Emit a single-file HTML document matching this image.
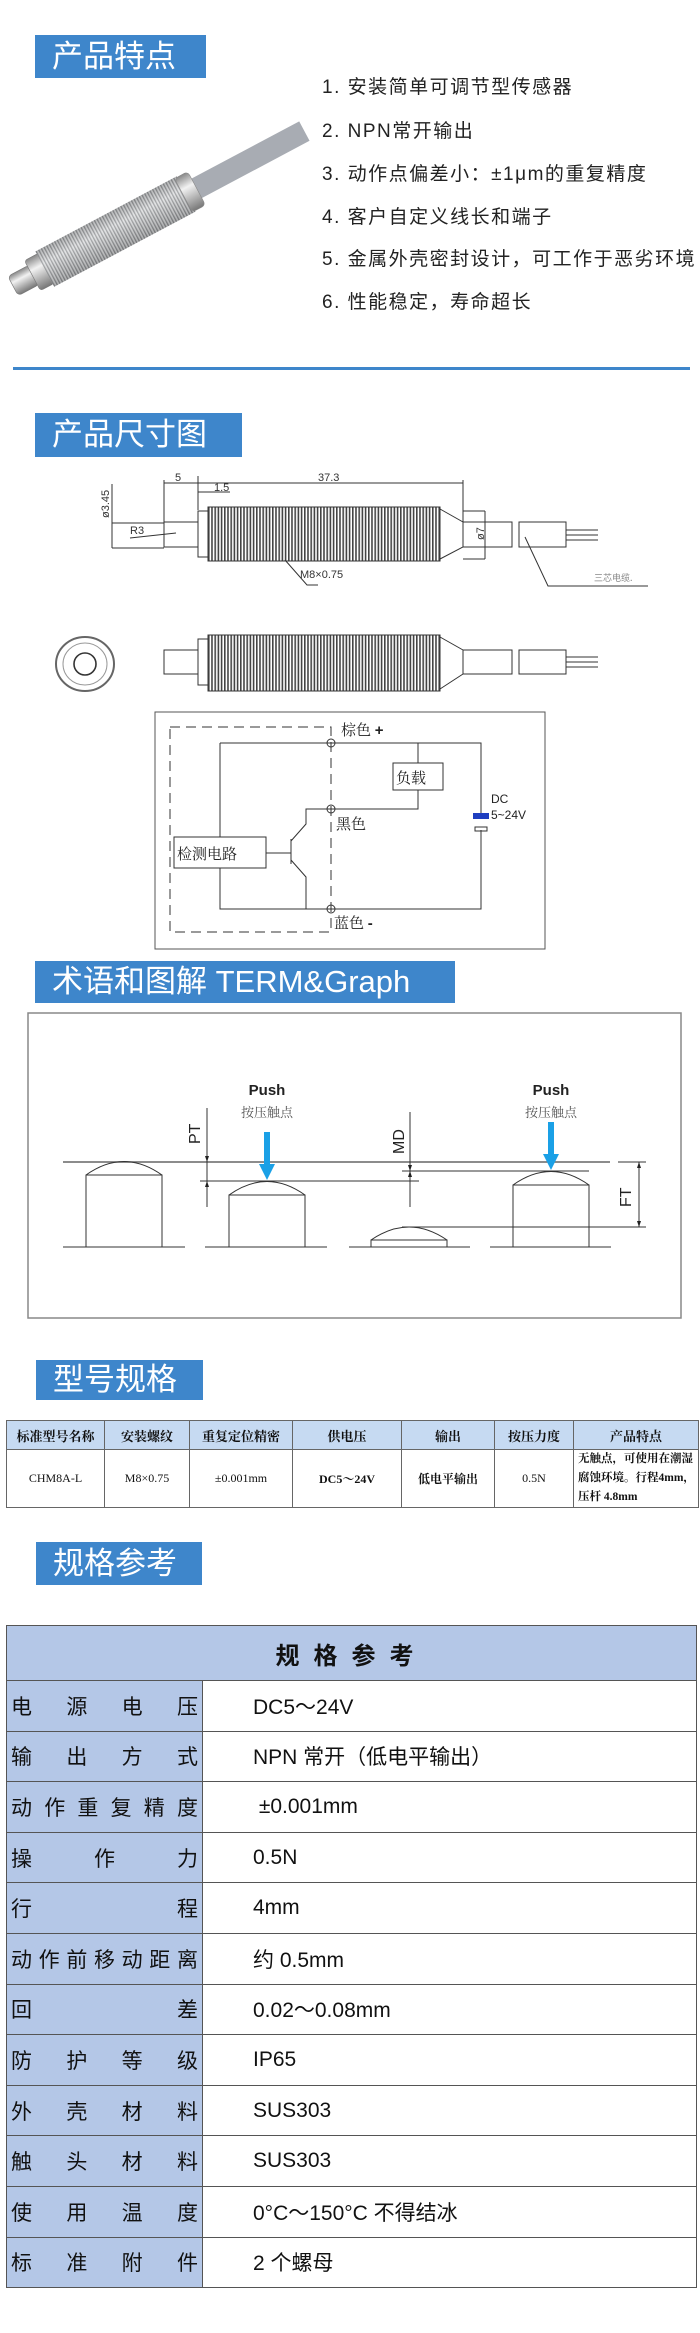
<!DOCTYPE html>
<html><head><meta charset="utf-8">
<style>
*{margin:0;padding:0;box-sizing:border-box}
body{width:700px;height:2333px;background:#fff;position:relative;overflow:hidden;font-family:"Liberation Sans","Noto Sans CJK SC",sans-serif}
.t{position:absolute;background:#3e86cb;color:#fff;font-size:31px;line-height:43px;padding-left:17px;font-family:"Liberation Sans","Noto Sans CJK SC",sans-serif}
.f{position:absolute;left:322px;font-size:19px;color:#222;letter-spacing:1.5px;line-height:24px;font-family:"Liberation Sans","Noto Sans CJK SC",sans-serif}
.a{position:absolute}
table{border-collapse:collapse}
#t1{position:absolute;left:6px;top:1420px;width:693px;font-size:12px;font-family:"Liberation Serif","Noto Serif CJK SC",serif}
#t1 td,#t1 th{border:1.5px solid #666;text-align:center;color:#111}
#t1 th{background:#c6daf2;height:29px;font-weight:bold;font-size:13px}
#t1 td{height:57px}
#t2{position:absolute;left:6px;top:1625px;width:691px;font-size:21px;color:#111}
#t2 td{border:1.5px solid #555;height:50.6px;padding:0}
#t2 .h{background:#b4c7e7;text-align:center;font-weight:bold;font-size:24px;letter-spacing:14px;height:55px}
#t2 .l{background:#b4c7e7;width:196px;padding:0 4px}
#t2 .l div{display:flex;justify-content:space-between}
#t2 .v{padding-left:50px}
</style></head><body>

<div class="t" style="left:35px;top:35px;width:171px;height:43px">产品特点</div>
<div class="f" style="top:76px">1. 安装简单可调节型传感器</div>
<div class="f" style="top:120px">2. NPN常开输出</div>
<div class="f" style="top:163px">3. 动作点偏差小：±1μm的重复精度</div>
<div class="f" style="top:206px">4. 客户自定义线长和端子</div>
<div class="f" style="top:248px">5. 金属外壳密封设计，可工作于恶劣环境</div>
<div class="f" style="top:291px">6. 性能稳定，寿命超长</div>
<div class="a" style="left:13px;top:367px;width:677px;height:3px;background:#3e86cb"></div>

<svg class="a" style="left:0;top:0" width="700" height="1330" viewBox="0 0 700 1330">
<defs>
<pattern id="th" width="3" height="10" patternUnits="userSpaceOnUse"><rect width="3" height="10" fill="#d8dadc"/><rect width="1.3" height="10" fill="#6d7074"/></pattern>
<pattern id="dt" width="3.2" height="10" patternUnits="userSpaceOnUse"><rect width="3.2" height="10" fill="#fff"/><rect width="1.6" height="10" fill="#444"/></pattern>
<linearGradient id="mg" x1="0" y1="0" x2="0" y2="1"><stop offset="0" stop-color="#888"/><stop offset=".35" stop-color="#f2f2f2"/><stop offset="1" stop-color="#777"/></linearGradient>
</defs>
<!-- sensor photo -->
<g transform="translate(13,286) rotate(-28)">
<rect x="205" y="-11" width="125" height="22" fill="#a8acb3"/>
<rect x="0" y="-11" width="24" height="22" rx="4" fill="url(#mg)" stroke="#777" stroke-width=".6"/>
<rect x="22" y="-17" width="16" height="34" rx="3" fill="url(#mg)" stroke="#777" stroke-width=".6"/>
<rect x="36" y="-20" width="160" height="40" fill="url(#th)"/>
<rect x="36" y="-20" width="160" height="40" fill="url(#mg)" opacity=".45"/>
<rect x="193" y="-19" width="15" height="38" rx="4" fill="url(#mg)" stroke="#888" stroke-width=".6"/>
</g>

<!-- section 2 -->
<g fill="none" stroke="#333" stroke-width="1">
<line x1="164" y1="483" x2="463" y2="483"/>
<line x1="164" y1="480" x2="164" y2="522"/>
<line x1="198" y1="476" x2="198" y2="510"/>
<line x1="463" y1="480" x2="463" y2="522"/>
<line x1="198" y1="492" x2="230" y2="492"/>
<line x1="112" y1="523" x2="164" y2="523"/><line x1="112" y1="548" x2="164" y2="548"/>
<line x1="112" y1="484" x2="112" y2="548"/>
<line x1="130" y1="538" x2="176" y2="533"/>
<rect x="164" y="522" width="34" height="25"/>
<rect x="198" y="511" width="10" height="46"/>
<rect x="208" y="507" width="232" height="54" fill="url(#dt)" stroke="#333"/>
<polygon points="440,509 463,522 463,547 440,559"/>
<rect x="463" y="522" width="49" height="25"/>
<rect x="519" y="522" width="47" height="25"/>
<line x1="566" y1="530" x2="598" y2="530"/><line x1="566" y1="535" x2="598" y2="535"/><line x1="566" y1="540" x2="598" y2="540"/>
<line x1="463" y1="511" x2="485" y2="511"/><line x1="463" y1="559" x2="485" y2="559"/><line x1="485" y1="511" x2="485" y2="559"/>
<polyline points="285,560 307,585 318,585"/>
<polyline points="525,537 548,586 648,586"/>
<ellipse cx="85" cy="664" rx="29" ry="27" stroke-width="2" stroke="#666"/>
<ellipse cx="85" cy="664" rx="22" ry="21" stroke="#999"/>
<circle cx="85" cy="664" r="11" stroke-width="1.6"/>
<rect x="164" y="650" width="34" height="24"/>
<rect x="198" y="639" width="10" height="46"/>
<rect x="208" y="635" width="232" height="56" fill="url(#dt)" stroke="#333"/>
<polygon points="440,637 463,650 463,674 440,689"/>
<rect x="463" y="650" width="49" height="24"/>
<rect x="519" y="650" width="47" height="24"/>
<line x1="566" y1="657" x2="598" y2="657"/><line x1="566" y1="662" x2="598" y2="662"/><line x1="566" y1="667" x2="598" y2="667"/>
<rect x="155" y="712" width="390" height="237" stroke="#555"/>
<rect x="170" y="727" width="161" height="205" stroke-dasharray="10,6"/>
<polyline points="220,743 481,743 481,813"/>
<polyline points="481,830 481,909 220,909 220,743"/>
<line x1="418" y1="743" x2="418" y2="763"/>
<rect x="393" y="763" width="50" height="27"/>
<polyline points="418,790 418,809 306,809 306,824 291,841"/>
<line x1="291" y1="839" x2="291" y2="864"/>
<polyline points="291,860 306,877 306,909"/>
<rect x="174" y="837" width="92" height="31" fill="#fff"/>
<line x1="266" y1="853" x2="291" y2="853"/>
<circle cx="331" cy="743" r="4"/><circle cx="331" cy="809" r="4"/><circle cx="331" cy="909" r="4"/>
<rect x="475" y="827" width="12" height="4"/>
</g>
<rect x="473" y="813" width="16" height="6" fill="#1f3fc0"/>
<g font-family="Liberation Sans,sans-serif" font-size="11" fill="#333">
<text x="175" y="481">5</text><text x="318" y="481">37.3</text><text x="214" y="491">1.5</text>
<text x="130" y="534">R3</text><text x="300" y="578">M8×0.75</text>
<text transform="translate(109,518) rotate(-90)">ø3.45</text>
<text transform="translate(484,540) rotate(-90)">ø7</text>
<text x="594" y="581" font-size="9" fill="#888" font-family="Noto Sans CJK SC,sans-serif">三芯电缆.</text>
</g>
<g font-family="Liberation Serif,Noto Serif CJK SC,serif" font-size="15" fill="#222">
<text x="341" y="735">棕色 <tspan font-family="Liberation Sans" font-weight="bold">+</tspan></text>
<text x="396" y="783">负载</text>
<text x="336" y="829">黑色</text>
<text x="177" y="859">检测电路</text>
<text x="334" y="928">蓝色 <tspan font-family="Liberation Sans" font-weight="bold">-</tspan></text>
<text x="491" y="803" font-family="Liberation Sans" font-size="12">DC</text>
<text x="491" y="819" font-family="Liberation Sans" font-size="12">5~24V</text>
</g>

<rect x="28" y="1013" width="653" height="305" fill="none" stroke="#888" stroke-width="1.5"/>
<g fill="none" stroke="#333" stroke-width="1">
<line x1="63" y1="1162" x2="610" y2="1162" stroke="#666" stroke-width="1.5"/>
<line x1="618" y1="1162" x2="646" y2="1162"/>
<line x1="63" y1="1247" x2="185" y2="1247"/><line x1="205" y1="1247" x2="327" y2="1247"/>
<line x1="349" y1="1247" x2="470" y2="1247"/><line x1="490" y1="1247" x2="611" y2="1247"/>
<path d="M86,1247 V1175 H162 V1247 M86,1175 Q124,1148 162,1175"/>
<path d="M229,1247 V1195 H305 V1247 M229,1195 Q267,1168 305,1195"/>
<path d="M371,1247 V1240 H447 V1247 M371,1240 Q409,1214 447,1240"/>
<path d="M513,1247 V1185 H589 V1247 M513,1185 Q551,1158 589,1185"/>
<line x1="200" y1="1181" x2="419" y2="1181"/>
<line x1="402" y1="1171" x2="589" y2="1171"/>
<line x1="402" y1="1227" x2="646" y2="1227"/>
<line x1="207" y1="1108" x2="207" y2="1207"/>
<line x1="410" y1="1112" x2="410" y2="1207"/>
<line x1="639" y1="1162" x2="639" y2="1227"/>
</g>
<g fill="#222">
<polygon points="205,1156 209,1156 207,1162"/><polygon points="205,1187 209,1187 207,1181"/>
<polygon points="408,1165 412,1165 410,1171"/><polygon points="408,1177 412,1177 410,1171"/>
<polygon points="637,1168 641,1168 639,1162"/><polygon points="637,1221 641,1221 639,1227"/>
</g>
<g fill="#1aa0e6">
<rect x="264" y="1132" width="6" height="34"/><polygon points="259,1164 275,1164 267,1180"/>
<rect x="548" y="1122" width="6" height="34"/><polygon points="543,1154 559,1154 551,1170"/>
</g>
<g font-family="Liberation Sans,sans-serif" fill="#222">
<text x="267" y="1095" font-size="15" font-weight="bold" text-anchor="middle">Push</text>
<text x="551" y="1095" font-size="15" font-weight="bold" text-anchor="middle">Push</text>
<text x="267" y="1117" font-size="13" text-anchor="middle" fill="#555" font-family="Noto Serif CJK SC,serif">按压触点</text>
<text x="551" y="1117" font-size="13" text-anchor="middle" fill="#555" font-family="Noto Serif CJK SC,serif">按压触点</text>
<text transform="translate(200,1144) rotate(-90)" font-size="16">PT</text>
<text transform="translate(404,1154) rotate(-90)" font-size="16">MD</text>
<text transform="translate(631,1207) rotate(-90)" font-size="16">FT</text>
</g>
</svg>

<div class="t" style="left:35px;top:413px;width:207px;height:44px;line-height:44px">产品尺寸图</div>
<div class="t" style="left:35px;top:961px;width:420px;height:42px;line-height:42px">术语和图解 TERM&amp;Graph</div>
<div class="t" style="left:36px;top:1360px;width:167px;height:40px;line-height:40px">型号规格</div>
<div class="t" style="left:36px;top:1542px;width:166px;height:43px">规格参考</div>

<table id="t1">
<tr><th style="width:98px">标准型号名称</th><th style="width:85px">安装螺纹</th><th style="width:103px">重复定位精密</th><th style="width:109px">供电压</th><th style="width:93px">输出</th><th style="width:79px">按压力度</th><th>产品特点</th></tr>
<tr><td>CHM8A-L</td><td>M8×0.75</td><td>±0.001mm</td><td style="font-weight:bold">DC5～24V</td><td style="font-weight:bold">低电平输出</td><td>0.5N</td><td style="text-align:left;font-size:11.5px;line-height:19px;padding-left:4px;font-weight:bold">无触点，可使用在潮湿腐蚀环境。行程4mm，压杆 4.8mm</td></tr>
</table>

<table id="t2">
<tr><td colspan="2" class="h">规格参考</td></tr>
<tr><td class="l"><div><span>电</span><span>源</span><span>电</span><span>压</span></div></td><td class="v">DC5～24V</td></tr>
<tr><td class="l"><div><span>输</span><span>出</span><span>方</span><span>式</span></div></td><td class="v">NPN 常开（低电平输出）</td></tr>
<tr><td class="l"><div><span>动</span><span>作</span><span>重</span><span>复</span><span>精</span><span>度</span></div></td><td class="v">&nbsp;±0.001mm</td></tr>
<tr><td class="l"><div><span>操</span><span>作</span><span>力</span></div></td><td class="v">0.5N</td></tr>
<tr><td class="l"><div><span>行</span><span>程</span></div></td><td class="v">4mm</td></tr>
<tr><td class="l"><div><span>动</span><span>作</span><span>前</span><span>移</span><span>动</span><span>距</span><span>离</span></div></td><td class="v">约 0.5mm</td></tr>
<tr><td class="l"><div><span>回</span><span>差</span></div></td><td class="v">0.02～0.08mm</td></tr>
<tr><td class="l"><div><span>防</span><span>护</span><span>等</span><span>级</span></div></td><td class="v">IP65</td></tr>
<tr><td class="l"><div><span>外</span><span>壳</span><span>材</span><span>料</span></div></td><td class="v">SUS303</td></tr>
<tr><td class="l"><div><span>触</span><span>头</span><span>材</span><span>料</span></div></td><td class="v">SUS303</td></tr>
<tr><td class="l"><div><span>使</span><span>用</span><span>温</span><span>度</span></div></td><td class="v">0°C～150°C 不得结冰</td></tr>
<tr><td class="l"><div><span>标</span><span>准</span><span>附</span><span>件</span></div></td><td class="v">2 个螺母</td></tr>
</table>
</body></html>
